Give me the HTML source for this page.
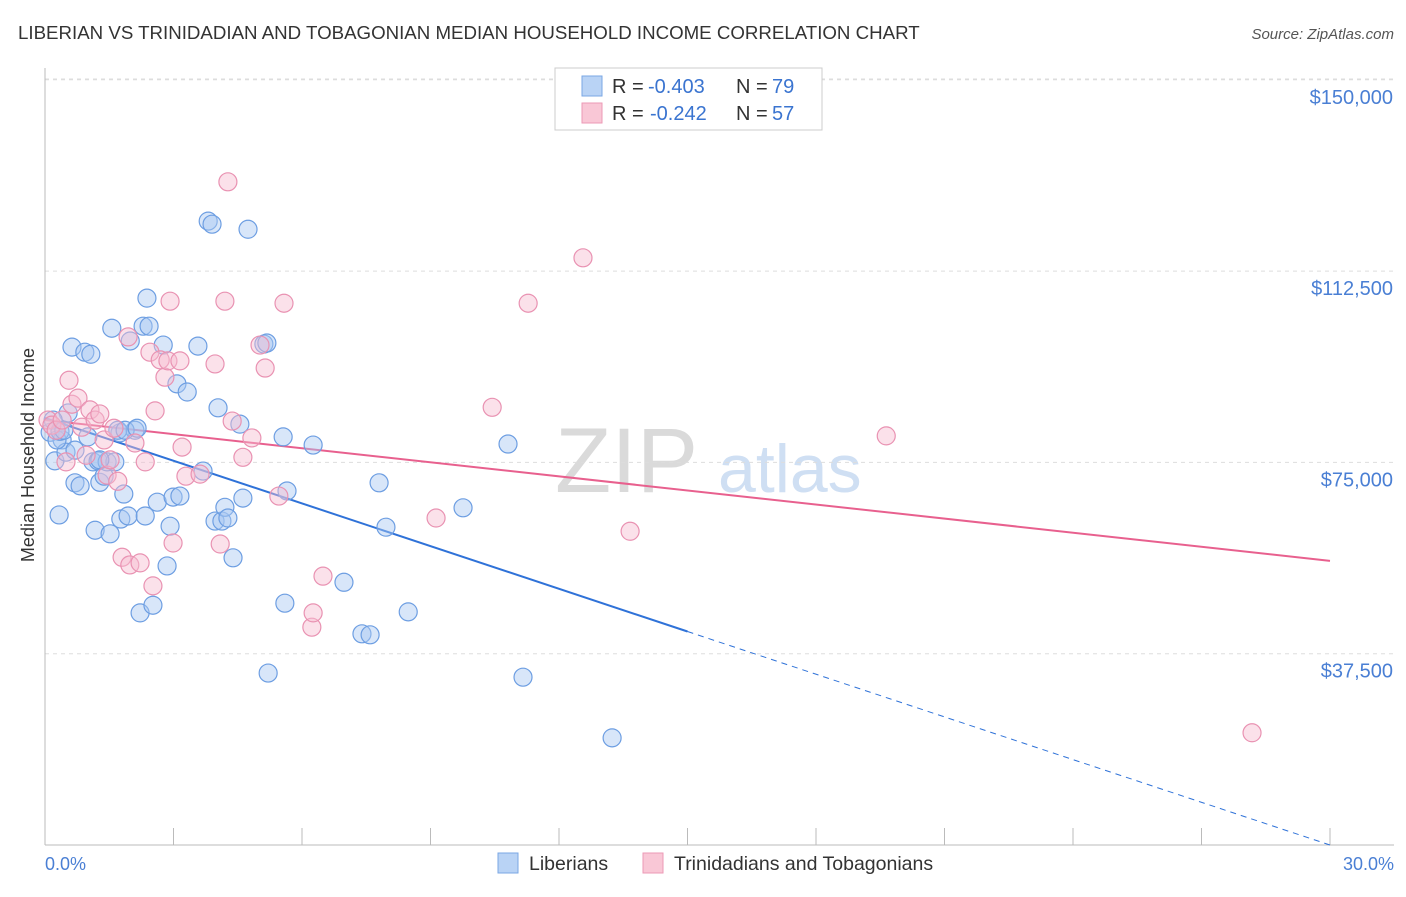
<!DOCTYPE html>
<html><head><meta charset="utf-8"><style>
body{margin:0;background:#fff;font-family:"Liberation Sans",sans-serif;}
svg text{font-family:"Liberation Sans",sans-serif;}
</style></head><body>
<svg id="chart" width="1406" height="892" xmlns="http://www.w3.org/2000/svg">
<text x="18" y="39" font-size="18.7" fill="#333">LIBERIAN VS TRINIDADIAN AND TOBAGONIAN MEDIAN HOUSEHOLD INCOME CORRELATION CHART</text>
<text x="1394" y="39" font-size="15" fill="#555" font-style="italic" text-anchor="end">Source: ZipAtlas.com</text>
<text x="555" y="492" font-size="92" fill="#dadada" font-family="Liberation Serif">ZIP</text>
<text x="718" y="492" font-size="68" fill="#cfdff3">atlas</text>
<g id="grid"></g><g id="axes"></g><g id="trends"></g><g id="pts"></g>
<text transform="translate(34,455) rotate(-90)" font-size="18" fill="#333" text-anchor="middle">Median Household Income</text>
<text x="45" y="870" font-size="18" fill="#4a7fd4">0.0%</text>
<text x="1394" y="870" font-size="18" fill="#4a7fd4" text-anchor="end">30.0%</text>
<g>
<rect x="555" y="68" width="267" height="62" fill="#fff" stroke="#ccc"/>
<rect x="582" y="76" width="20" height="20" fill="#b9d3f5" stroke="#7aa7e4"/>
<text x="612" y="93" font-size="20" fill="#333">R =</text>
<text x="648" y="93" font-size="20" fill="#3a74d0">-0.403</text>
<text x="736" y="93" font-size="20" fill="#333">N =</text>
<text x="772" y="93" font-size="20" fill="#3a74d0">79</text>
<rect x="582" y="103" width="20" height="20" fill="#f9c7d6" stroke="#ec9ab6"/>
<text x="612" y="120" font-size="20" fill="#333">R =</text>
<text x="650" y="120" font-size="20" fill="#3a74d0">-0.242</text>
<text x="736" y="120" font-size="20" fill="#333">N =</text>
<text x="772" y="120" font-size="20" fill="#3a74d0">57</text>
</g>
<g>
<rect x="498" y="853" width="20" height="20" fill="#b9d3f5" stroke="#7aa7e4"/>
<text x="529" y="870" font-size="19.5" fill="#333">Liberians</text>
<rect x="643" y="853" width="20" height="20" fill="#f9c7d6" stroke="#ec9ab6"/>
<text x="674" y="870" font-size="19.5" fill="#333">Trinidadians and Tobagonians</text>
</g>
</svg>
<script>
const yTicks=[37500,75000,112500,150000];
const yTickLabels=["$37,500","$75,000","$112,500","$150,000"];
const xTicks=[0,3,6,9,12,15,18,21,24,27,30];
const blueX=[0.12,0.23,0.33,0.40,0.49,0.54,0.63,0.70,0.82,0.93,1.00,1.07,1.12,1.17,1.24,1.28,1.38,1.45,1.52,1.56,1.63,1.75,1.77,1.84,1.94,1.99,2.10,2.22,2.29,2.34,2.38,2.43,2.52,2.62,2.76,2.85,2.92,2.99,3.08,3.15,3.32,3.57,3.69,3.81,3.90,3.97,4.04,4.13,4.20,4.27,4.39,4.55,4.62,4.74,5.11,5.18,5.21,5.56,5.60,5.65,6.26,6.98,7.40,7.59,7.80,7.96,8.48,9.76,10.81,11.16,13.24,0.19,0.28,0.35,0.44,1.70,1.87,2.15,0.70,1.28];
const blueY=[80900,75300,64700,79400,77000,84700,97600,71000,70400,96600,80000,96200,75100,61700,75300,71100,72300,75100,61000,101300,75100,80800,63900,68800,64500,98800,81300,45500,101700,64500,107200,101700,47000,67200,98000,54700,62500,68200,90400,68400,88800,97800,73300,122300,121700,63500,85700,63500,66200,64100,56300,82500,68000,120700,98200,98400,33700,80000,47400,69400,78400,51500,41400,41200,71000,62300,45700,66100,78600,32900,21000,83300,79400,81100,81300,81300,81300,81700,77400,75500];
const pinkX=[0.07,0.16,0.26,0.40,0.49,0.56,0.63,0.77,0.86,0.96,1.05,1.17,1.28,1.38,1.45,1.52,1.61,1.70,1.80,1.94,1.98,2.10,2.22,2.34,2.45,2.52,2.57,2.69,2.80,2.87,2.92,2.99,3.15,3.20,3.29,3.62,3.97,4.09,4.20,4.27,4.37,4.62,4.83,5.02,5.14,5.46,5.58,6.23,6.26,6.49,9.13,10.44,11.28,12.56,13.66,19.64,28.18];
const pinkY=[83300,82300,81300,83300,75100,91100,86400,87600,81900,76400,85300,83300,84500,79400,72500,75500,81700,71300,56400,99600,54900,78800,55300,75100,96600,50800,85100,95100,91700,94900,106600,59200,94900,78000,72300,72700,94300,59000,106600,130000,83100,76000,79800,98000,93500,68400,106200,42700,45500,52700,64100,85800,106200,115100,61500,80200,22000];
const trendBlue=[83700,0];
const trendPink=[83300,55700];
const NS="http://www.w3.org/2000/svg";
const xs=v=>45+v/30*1285;
const ys=v=>845-v/37500*191.3;
function mk(t,a,p){const e=document.createElementNS(NS,t);for(const k in a)e.setAttribute(k,a[k]);p.appendChild(e);return e;}
const grid=document.getElementById('grid'),axes=document.getElementById('axes'),tr=document.getElementById('trends'),pts=document.getElementById('pts');
yTicks.forEach((v,i)=>{
 const l=mk('line',{x1:45,x2:1394,y1:ys(v),y2:ys(v),stroke:'#ddd','stroke-dasharray':'4,4'},grid);
 
 
 const t=mk('text',{x:1393,y:ys(v)+24,'font-size':20,fill:'#4a7fd4','text-anchor':'end'},grid);
 t.textContent=yTickLabels[i];
 
 
});
const tl=mk('line',{x1:45,x2:1394,y1:79,y2:79,stroke:'#ddd','stroke-dasharray':'4,4'},grid);


const ya=mk('line',{x1:45,x2:45,y1:68,y2:845,stroke:'#bbb'},axes);


const xa=mk('line',{x1:45,x2:1394,y1:845,y2:845,stroke:'#bbb'},axes);


xTicks.forEach(v=>{
 const t=mk('line',{x1:xs(v),x2:xs(v),y1:828,y2:845,stroke:'#bbb'},axes);
 
 
});
function dot(x,y,f,s,n){const c=mk('circle',{cx:xs(x),cy:ys(y),r:9,fill:f,'fill-opacity':0.45,stroke:s,'stroke-width':1.2},pts);
 
 }
blueX.forEach((x,i)=>dot(x,blueY[i],'#a9c8f2','#6d9ee2','liberian-point'));
pinkX.forEach((x,i)=>dot(x,pinkY[i],'#f7bcd0','#e992b2','trinidadian-point'));
const bAt=x=>trendBlue[0]+(trendBlue[1]-trendBlue[0])*x/30;
const b1=mk('line',{x1:xs(0),y1:ys(bAt(0)),x2:xs(15),y2:ys(bAt(15)),stroke:'#2f72d8','stroke-width':2},tr);


const b2=mk('line',{x1:xs(15),y1:ys(bAt(15)),x2:xs(30),y2:ys(bAt(30)),stroke:'#2f72d8','stroke-width':1,'stroke-dasharray':'6,5'},tr);


const p1=mk('line',{x1:xs(0),y1:ys(trendPink[0]),x2:xs(30),y2:ys(trendPink[1]),stroke:'#e8608e','stroke-width':2},tr);


</script>
</body></html>
